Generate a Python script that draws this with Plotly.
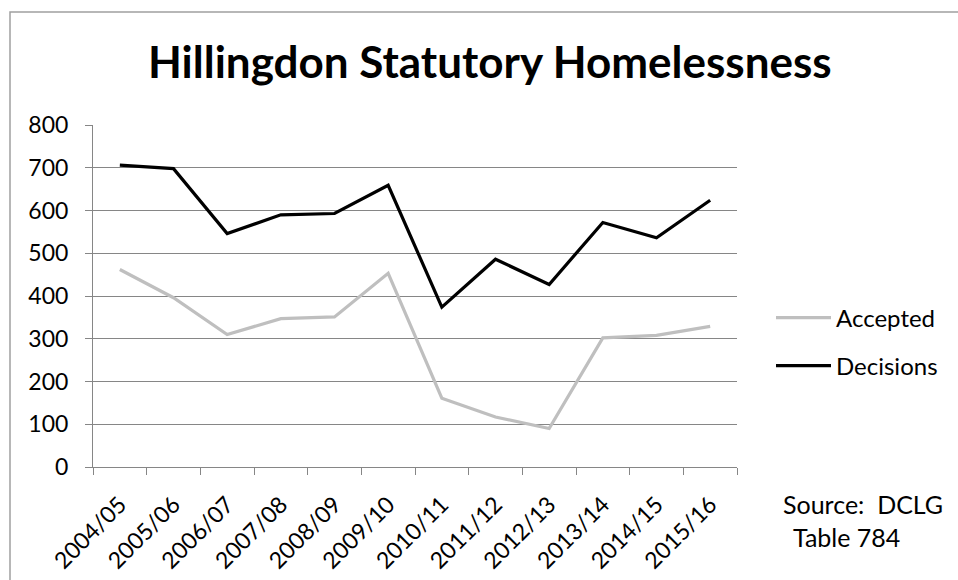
import plotly.graph_objects as go

years = ["2004/05", "2005/06", "2006/07", "2007/08", "2008/09", "2009/10",
         "2010/11", "2011/12", "2012/13", "2013/14", "2014/15", "2015/16"]
accepted = [462, 396, 310, 347, 351, 453, 161, 117, 90, 302, 308, 329]
decisions = [706, 698, 546, 590, 593, 659, 374, 486, 427, 572, 536, 624]
y_ticks = [0, 100, 200, 300, 400, 500, 600, 700, 800]

W, H = 958, 580
ML, MR, MT, MB = 93, 221, 125, 113
PW, PH = W - ML - MR, H - MT - MB

def px(x):
    return (x - ML) / PW

def py(y):
    return 1 - (y - MT) / PH

FONT = "Lato, 'Open Sans', sans-serif"

fig = go.Figure()
fig.add_trace(go.Scatter(x=years, y=accepted, mode="lines", name="Accepted",
                         line=dict(color="#bfbfbf", width=3.2), legend="legend"))
fig.add_trace(go.Scatter(x=years, y=decisions, mode="lines", name="Decisions",
                         line=dict(color="#000000", width=3.2), legend="legend2"))

leg_common = dict(xanchor="left", yanchor="middle", font=dict(size=24),
                  itemwidth=55, bgcolor="rgba(0,0,0,0)")

fig.update_layout(
    width=W, height=H,
    margin=dict(l=ML, r=MR, t=MT, b=MB, autoexpand=False),
    paper_bgcolor="white", plot_bgcolor="white",
    font=dict(family=FONT, color="black", size=23),
    showlegend=True,
    legend=dict(x=px(771), y=py(318), **leg_common),
    legend2=dict(x=px(771), y=py(366), **leg_common),
    xaxis=dict(type="category", range=[-0.5, 11.5], tickangle=-45,
               showline=True, linecolor="#868686", linewidth=1,
               ticks="outside", tickson="boundaries", ticklen=7,
               tickcolor="#868686", showgrid=False, tickfont=dict(size=23),
               ticklabelstandoff=14, automargin=False),
    yaxis=dict(range=[0, 800], tickvals=y_ticks, showline=True,
               linecolor="#868686", linewidth=1, ticks="outside", ticklen=7,
               tickcolor="#868686", showgrid=True, gridcolor="#868686",
               gridwidth=1, zeroline=False, tickfont=dict(size=23),
               ticklabelstandoff=12, automargin=False),
    shapes=[dict(type="rect", xref="paper", yref="paper",
                 x0=px(10), x1=px(990), y0=py(600), y1=py(12),
                 line=dict(color="#a0a0a0", width=1.5), layer="below")],
    annotations=[
        dict(text="<b>Hillingdon Statutory Homelessness</b>", xref="paper",
             yref="paper", x=px(490), y=py(61), xanchor="center",
             yanchor="middle", showarrow=False, font=dict(size=44)),
        dict(text="Source:  DCLG", xref="paper", yref="paper", x=px(781),
             y=py(504), xanchor="left", yanchor="middle", showarrow=False,
             font=dict(size=25)),
        dict(text="Table 784", xref="paper", yref="paper", x=px(791),
             y=py(537), xanchor="left", yanchor="middle", showarrow=False,
             font=dict(size=25)),
    ],
)

fig.write_html("out.html")
